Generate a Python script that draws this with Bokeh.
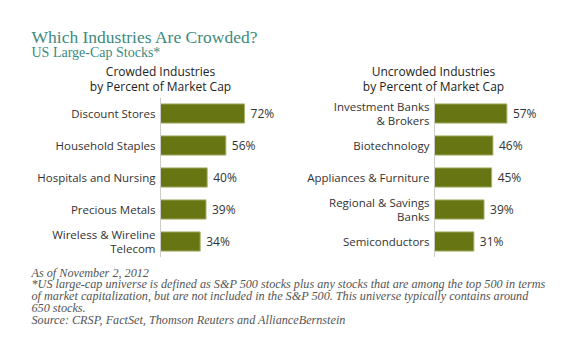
from bokeh.plotting import figure
from bokeh.models import ColumnDataSource, Label, FactorRange, Span
from bokeh.layouts import column, row
from bokeh.embed import file_html
from bokeh.resources import INLINE
from bokeh.core.properties import value

# ---- data ----
crowded_industries = ["Discount Stores", "Household Staples", "Hospitals and Nursing",
                      "Precious Metals", "Wireless & Wireline\nTelecom"]
crowded_pct = [72, 56, 40, 39, 34]

uncrowded_industries = ["Investment Banks\n& Brokers", "Biotechnology", "Appliances & Furniture",
                        "Regional & Savings\nBanks", "Semiconductors"]
uncrowded_pct = [57, 46, 45, 39, 31]

title = "Which Industries Are Crowded?"
subtitle = "US Large-Cap Stocks*"
left_title = ["Crowded Industries", "by Percent of Market Cap"]
right_title = ["Uncrowded Industries", "by Percent of Market Cap"]
notes = [
    "As of November 2, 2012",
    "*US large-cap universe is defined as S&P 500 stocks plus any stocks that are among the top 500 in terms",
    "of market capitalization, but are not included in the S&P 500. This universe typically contains around",
    "650 stocks.",
    "Source: CRSP, FactSet, Thomson Reuters and AllianceBernstein",
]

TEAL = "#3d8a80"
BAR = "#687513"
BAR_EDGE = "#a9b16a"
TXT = "#333333"
SANS = "Open Sans"
SERIF = "Liberation Serif"


def blank(width, height, ymax):
    p = figure(width=width, height=height, x_range=(0, width), y_range=(ymax, 0),
               output_backend="svg", toolbar_location=None,
               x_axis_location=None, y_axis_location=None,
               min_border=0)
    p.outline_line_color = None
    p.xgrid.visible = False
    p.ygrid.visible = False
    return p


# ---- header ----
header = blank(580, 97, 97)
header.add_layout(Label(x=31, y=36, text=title, text_font=SERIF, text_font_size="17.5px",
                        text_color=TEAL, text_baseline="alphabetic"))
header.add_layout(Label(x=31, y=52, text=subtitle, text_font=SERIF, text_font_size="14px",
                        text_color=TEAL, text_baseline="alphabetic"))
for cx, lines in ((160, left_title), (433, right_title)):
    for i, t in enumerate(lines):
        header.add_layout(Label(x=cx, y=71 + 14.5 * i, text=t, text_font=SANS,
                                text_font_size="12px", text_color="#222222",
                                text_align="center", text_baseline="middle"))


# ---- panels ----
def panel(cats, vals, label_px, scale):
    src = ColumnDataSource(dict(cat=cats, val=vals, lab=[f"{v}%" for v in vals]))
    frame_w = 290
    p = figure(width=frame_w, height=160, y_range=FactorRange(*cats[::-1], range_padding=0),
               x_range=(-label_px / scale, (frame_w - label_px) / scale),
               output_backend="svg", toolbar_location=None,
               x_axis_location=None, y_axis_location=None, min_border=0)
    p.outline_line_color = None
    p.xgrid.visible = False
    p.ygrid.visible = False
    p.add_layout(Span(location=0, dimension="height", line_color="#cccccc", line_width=1))
    p.hbar(y="cat", right="val", left=0, height=0.6, source=src,
           fill_color=BAR, line_color=BAR_EDGE, line_width=1)
    p.text(x="val", y="cat", text="lab", source=src, x_offset=6,
           text_align="left", text_baseline="middle", text_font=value(SANS),
           text_font_size="12px", text_color=TXT)
    p.text(x=0, y="cat", text="cat", source=src, x_offset=-5,
           text_align="right", text_baseline="middle", text_font=value(SANS),
           text_font_size="11.5px", text_color=TXT, text_line_height=0.88)
    return p


left = panel(crowded_industries, crowded_pct, 160, 1.167)
right = panel(uncrowded_industries, uncrowded_pct, 144, 1.27)

# ---- footer ----
footer = blank(580, 96, 96)
for i, t in enumerate(notes):
    footer.add_layout(Label(x=31, y=15 + 11.8 * i, text=t, text_font=SERIF,
                            text_font_style="italic", text_font_size="12.2px",
                            text_color="#555555", text_baseline="middle"))

layout = column(header, row(left, right), footer)
open("out.html", "w").write(file_html(layout, INLINE))
